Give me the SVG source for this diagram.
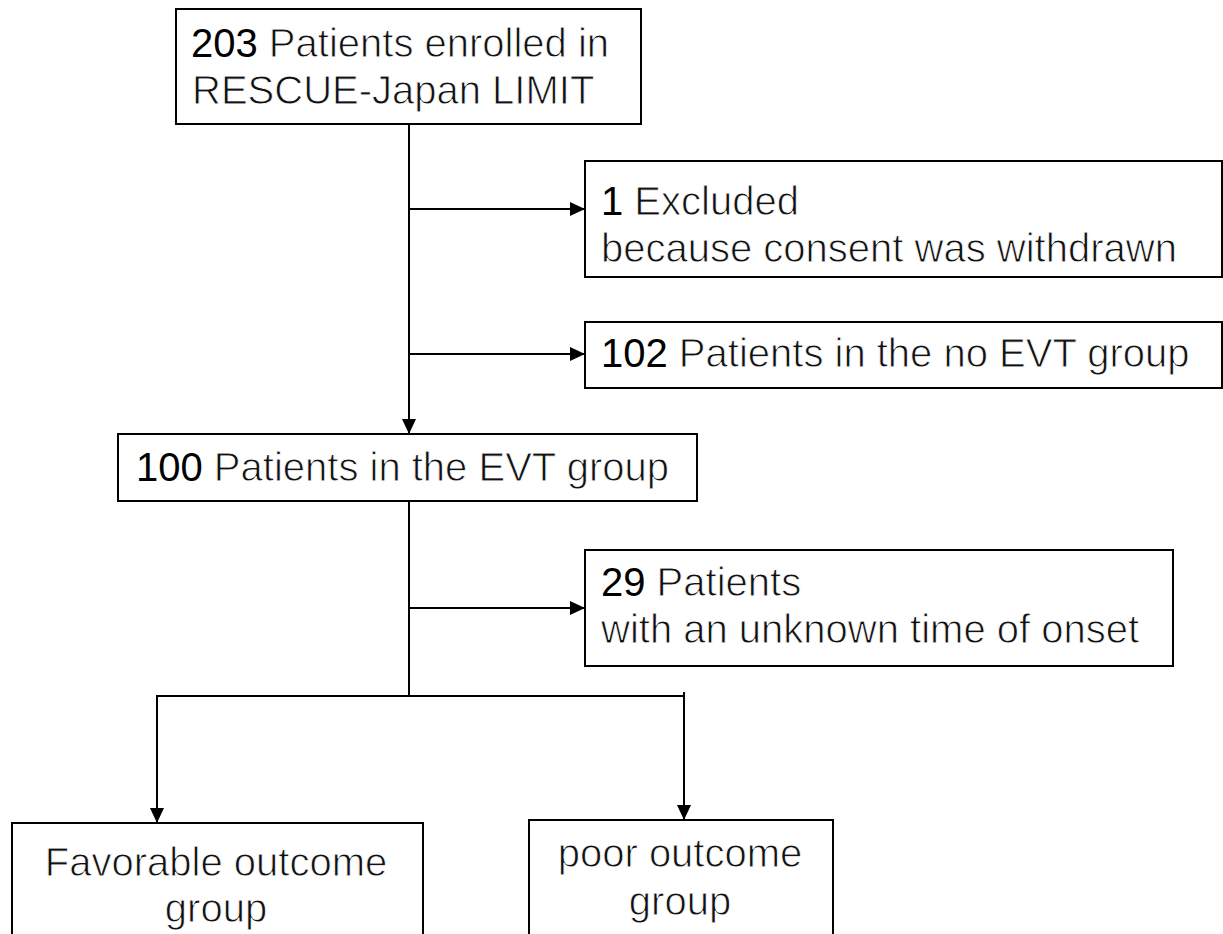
<svg xmlns="http://www.w3.org/2000/svg" width="1223" height="934" viewBox="0 0 1223 934">
<defs>
<style>
.box{fill:#fff;stroke:#000;stroke-width:2}
.ln{fill:none;stroke:#000;stroke-width:2}
text{font-family:"Liberation Sans",Arial,sans-serif;font-size:40px;fill:#111;stroke:#fff;stroke-width:0.9px}
.n{fill:#000;stroke:none}
</style>
<marker id="ah" markerWidth="15" markerHeight="14" refX="14" refY="7" orient="auto" markerUnits="userSpaceOnUse">
<path d="M0,0 L15,7 L0,14 Z" fill="#000"/>
</marker>
</defs>
<rect width="1223" height="934" fill="#fff"/>
<g id="connectors">
<line class="ln" x1="409" y1="124" x2="409" y2="433" marker-end="url(#ah)"/>
<line class="ln" x1="409" y1="209" x2="584" y2="209" marker-end="url(#ah)"/>
<line class="ln" x1="409" y1="354" x2="584" y2="354" marker-end="url(#ah)"/>
<line class="ln" x1="409" y1="501" x2="409" y2="697"/>
<line class="ln" x1="409" y1="608" x2="584" y2="608" marker-end="url(#ah)"/>
<polyline class="ln" points="157,760 157,696 684,696 684,760"/>
<line class="ln" x1="157" y1="720" x2="157" y2="822" marker-end="url(#ah)"/>
<line class="ln" x1="684" y1="692" x2="684" y2="819" marker-end="url(#ah)"/>
</g>
<g id="n1">
<rect class="box" x="176" y="9" width="465" height="115"/>
<text x="191" y="57"><tspan class="n">203</tspan> Patients enrolled in</text>
<text x="192" y="104">RESCUE-Japan LIMIT</text>
</g>
<g id="n2">
<rect class="box" x="585" y="161" width="637" height="116"/>
<text x="601" y="215"><tspan class="n">1</tspan> Excluded</text>
<text x="601" y="262">because consent was withdrawn</text>
</g>
<g id="n3">
<rect class="box" x="585" y="322" width="637" height="66"/>
<text x="601" y="367"><tspan class="n">102</tspan> Patients in the no EVT group</text>
</g>
<g id="n4">
<rect class="box" x="118" y="434" width="579" height="67"/>
<text x="136" y="481"><tspan class="n">100</tspan> Patients in the EVT group</text>
</g>
<g id="n5">
<rect class="box" x="585" y="550" width="588" height="116"/>
<text x="601" y="596"><tspan class="n">29</tspan> Patients</text>
<text x="601" y="643">with an unknown time of onset</text>
</g>
<g id="n6">
<rect class="box" x="12" y="823" width="411" height="130"/>
<text x="216" y="876" text-anchor="middle">Favorable outcome</text>
<text x="216" y="922" text-anchor="middle">group</text>
</g>
<g id="n7">
<rect class="box" x="529" y="820" width="304" height="130"/>
<text x="680" y="867" text-anchor="middle">poor outcome</text>
<text x="680" y="915" text-anchor="middle">group</text>
</g>
</svg>
